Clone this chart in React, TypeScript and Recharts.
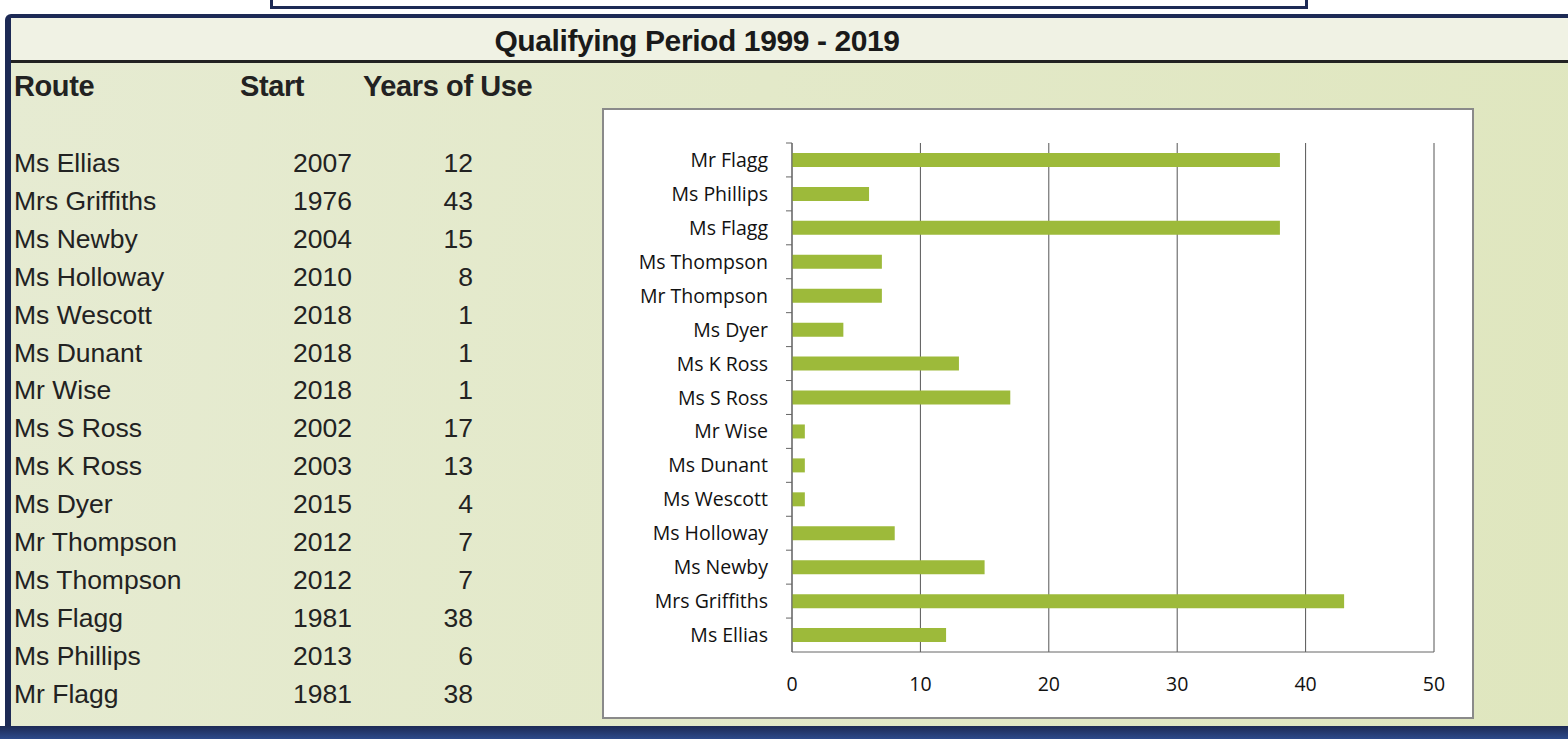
import { Bar, BarChart, CartesianGrid, XAxis, YAxis } from "recharts"

// table order, top to bottom (chart draws it reversed: Ms Ellias at the bottom)
const routes = [
  "Ms Ellias",
  "Mrs Griffiths",
  "Ms Newby",
  "Ms Holloway",
  "Ms Wescott",
  "Ms Dunant",
  "Mr Wise",
  "Ms S Ross",
  "Ms K Ross",
  "Ms Dyer",
  "Mr Thompson",
  "Ms Thompson",
  "Ms Flagg",
  "Ms Phillips",
  "Mr Flagg",
]
const startYears = [2007, 1976, 2004, 2010, 2018, 2018, 2018, 2002, 2003, 2015, 2012, 2012, 1981, 2013, 1981]
const yearsOfUse = [12, 43, 15, 8, 1, 1, 1, 17, 13, 4, 7, 7, 38, 6, 38]
const xTicks = [0, 10, 20, 30, 40, 50]

const title = "Qualifying Period 1999 - 2019"
const headers = ["Route", "Start", "Years of Use"]

const chartData = routes.map((route, i) => ({ route, years: yearsOfUse[i] }))

const CHART_W = 868
const CHART_H = 607
const MARGIN = { top: 33, right: 38, bottom: 5, left: 0 }
const X_AXIS_H = 60
const PLOT_H = CHART_H - MARGIN.top - MARGIN.bottom - X_AXIS_H
const BAND = PLOT_H / routes.length

const labelFont = "'Open Sans', 'Noto Sans', sans-serif"
const tableFont = "'Liberation Sans', Arial, sans-serif"

function RouteTick(props: any) {
  const { x, y, payload } = props
  return (
    <g>
      <line x1={x + 18} x2={x + 24} y1={y - BAND / 2} y2={y - BAND / 2} stroke="#666" />
      <text x={x} y={y} dy="0.36em" textAnchor="end" fontFamily={labelFont} fontSize={19.5} fill="#111">
        {payload.value}
      </text>
    </g>
  )
}

export default function App() {
  const rowTop = 163
  const rowStep = 37.9

  return (
    <div
      style={{
        position: "fixed",
        left: 0,
        top: 0,
        width: 1568,
        height: 739,
        overflow: "hidden",
        background: "#fff",
        fontFamily: tableFont,
      }}
    >
      {/* box above the panel */}
      <div
        style={{
          position: "absolute",
          left: 270,
          top: -10,
          width: 1032,
          height: 16,
          border: "3px solid #1d2a55",
          borderTop: "none",
        }}
      />

      {/* main panel */}
      <div
        style={{
          position: "absolute",
          left: 5,
          top: 14,
          width: 1580,
          height: 740,
          borderTop: "4px solid #1d2a55",
          borderLeft: "6px solid #1d2a55",
          borderTopLeftRadius: 6,
          background: "linear-gradient(100deg, #e6ebd2 0%, #e3e9c9 45%, #dfe6be 100%)",
        }}
      />
      <div
        style={{
          position: "absolute",
          left: 11,
          top: 18,
          width: 1570,
          height: 42,
          background: "#f0f2e4",
          borderBottom: "3px solid #222",
        }}
      />
      <div
        style={{
          position: "absolute",
          left: 0,
          top: 726,
          width: 1568,
          height: 13,
          background: "linear-gradient(180deg, #1d2a55 0%, #2d4a8a 100%)",
        }}
      />

      <div
        style={{
          position: "absolute",
          left: 0,
          width: 1394,
          top: 24,
          textAlign: "center",
          fontWeight: "bold",
          fontSize: 30,
          letterSpacing: -0.4,
          color: "#1a1a1a",
        }}
      >
        {title}
      </div>

      {/* table headers */}
      {[14, 240, 363].map((left, i) => (
        <div
          key={headers[i]}
          style={{
            position: "absolute",
            left,
            top: 70,
            fontWeight: "bold",
            fontSize: 29,
            letterSpacing: -0.4,
            color: "#222",
          }}
        >
          {headers[i]}
        </div>
      ))}

      {/* table rows */}
      {routes.map((route, i) => {
        const top = rowTop + i * rowStep - 15
        return (
          <div key={route}>
            <div style={{ position: "absolute", left: 14, top, fontSize: 26.5, lineHeight: "30px", color: "#222" }}>{route}</div>
            <div
              style={{
                position: "absolute",
                left: 252,
                width: 100,
                top,
                textAlign: "right",
                fontSize: 26.5,
                lineHeight: "30px",
                color: "#222",
              }}
            >
              {startYears[i]}
            </div>
            <div
              style={{
                position: "absolute",
                left: 373,
                width: 100,
                top,
                textAlign: "right",
                fontSize: 26.5,
                lineHeight: "30px",
                color: "#222",
              }}
            >
              {yearsOfUse[i]}
            </div>
          </div>
        )
      })}

      {/* chart box */}
      <div
        style={{
          position: "absolute",
          left: 604,
          top: 110,
          width: CHART_W,
          height: CHART_H,
          background: "#fff",
          boxShadow: "0 0 0 2px #8a8a8a",
        }}
      >
        <BarChart width={CHART_W} height={CHART_H} data={chartData} layout="vertical" margin={MARGIN}>
          <CartesianGrid horizontal={false} stroke="#555" />
          <XAxis
            type="number"
            domain={[0, 50]}
            ticks={xTicks}
            height={X_AXIS_H}
            axisLine={{ stroke: "#666" }}
            tickLine={false}
            tickSize={0}
            tickMargin={25}
            tick={{ fontFamily: labelFont, fontSize: 19.5, fill: "#111" }}
          />
          <YAxis
            type="category"
            dataKey="route"
            reversed
            width={188}
            axisLine={{ stroke: "#666" }}
            tickLine={false}
            tickSize={0}
            tickMargin={24}
            interval={0}
            tick={<RouteTick />}
          />
          <Bar dataKey="years" fill="#9dba3a" barSize={14} isAnimationActive={false} />
        </BarChart>
      </div>
    </div>
  )
}
